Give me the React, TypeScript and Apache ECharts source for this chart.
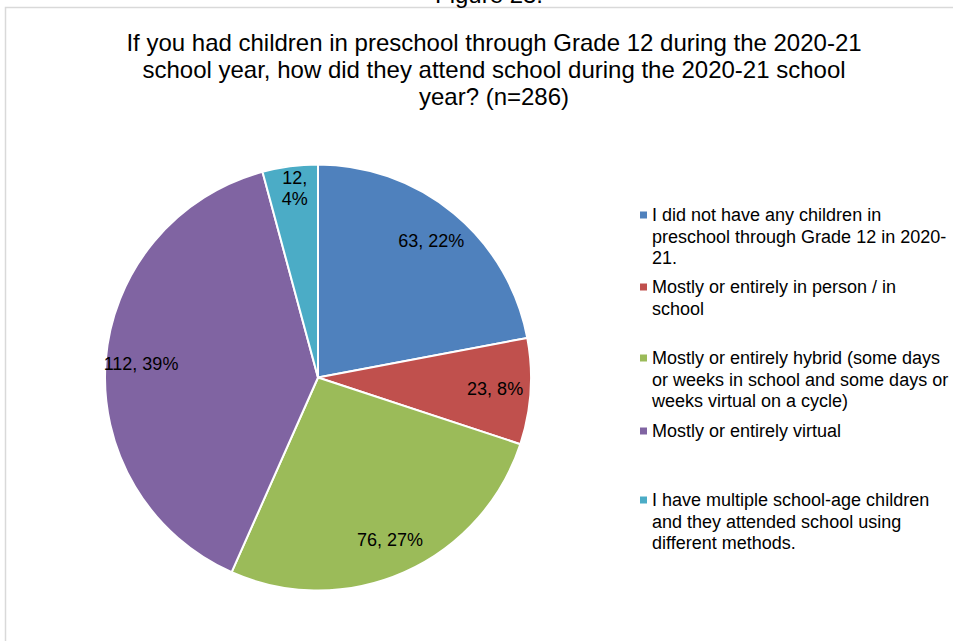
import React, { useEffect, useRef } from "react";
import * as echarts from "echarts";

const figureLabel = "Figure 23.";
const titleText =
  "If you had children in preschool through Grade 12 during the 2020-21\nschool year, how did they attend school during the 2020-21 school\nyear? (n=286)";

const categories = [
  "I did not have any children in\npreschool through Grade 12 in 2020-\n21.",
  "Mostly or entirely in person / in\nschool",
  "Mostly or entirely hybrid (some days\nor weeks in school and some days or\nweeks virtual on a cycle)",
  "Mostly or entirely virtual",
  "I have multiple school-age children\nand they attended school using\ndifferent methods.",
];
const counts = [63, 23, 76, 112, 12];
const colors = ["#4F81BD", "#C0504D", "#9BBB59", "#8064A2", "#4BACC6"];

// layout: first-line centre y of each legend entry
const legendFirstLineY = [215, 287, 358, 431, 500];

const FONT = 'Arial, "Liberation Sans", sans-serif';

export default function App() {
  const ref = useRef<HTMLDivElement>(null);
  useEffect(() => {
    if (!ref.current) return;
    const chart = echarts.init(ref.current, null, { renderer: "svg" });
    const data = categories.map((name, i) => ({
      name,
      value: counts[i],
      itemStyle: { color: colors[i] },
    }));
    const lh = 21.5;
    const legendGraphics: any[] = [];
    categories.forEach((name, i) => {
      const y = legendFirstLineY[i];
      legendGraphics.push({
        type: "rect",
        shape: { x: 640, y: y - 3.5, width: 7, height: 7 },
        style: { fill: colors[i] },
      });
      legendGraphics.push({
        type: "text",
        x: 652,
        y: y - lh / 2,
        style: {
          text: name,
          fill: "#000",
          font: `18px ${FONT}`,
          lineHeight: lh,
          verticalAlign: "top",
          align: "left",
        },
      });
    });
    chart.setOption({
      animation: false,
      backgroundColor: "#fff",
      title: {
        text: titleText,
        left: 489,
        top: 24,
        textAlign: "center",
        textStyle: {
          fontFamily: FONT,
          fontSize: 24,
          fontWeight: "normal",
          color: "#000",
          lineHeight: 27,
        },
      },
      graphic: [
        {
          type: "rect",
          shape: { x: 5.5, y: 7.5, width: 1000, height: 700 },
          style: { fill: "none", stroke: "#d9d9d9", lineWidth: 1.5 },
          z: 0,
        },
        {
          type: "text",
          x: 489,
          y: 6,
          style: {
            text: figureLabel,
            fill: "#000",
            font: `24px ${FONT}`,
            align: "center",
            verticalAlign: "bottom",
          },
        },
        ...legendGraphics,
      ],
      series: [
        {
          type: "pie",
          center: [318, 377.5],
          radius: [0, 213],
          startAngle: 90,
          clockwise: true,
          label: { show: false },
          labelLine: { show: false },
          itemStyle: { borderColor: "#fff", borderWidth: 2 },
          emphasis: { disabled: true },
          data,
        },
        {
          type: "pie",
          center: [318, 377.5],
          radius: [136, 213],
          startAngle: 90,
          clockwise: true,
          silent: true,
          itemStyle: { color: "rgba(0,0,0,0)", borderWidth: 0 },
          emphasis: { disabled: true },
          labelLine: { show: false },
          label: {
            show: true,
            position: "inside",
            color: "#000",
            fontFamily: FONT,
            fontSize: 18,
            lineHeight: 21,
            rich: { gap: { fontSize: 4, lineHeight: 26 } },
            formatter: (p: any) =>
              p.percent < 5
                ? `${p.value},\n${Math.round(p.percent)}%\n{gap| }`
                : `${p.value}, ${Math.round(p.percent)}%`,
          },
          data: categories.map((name, i) => ({ name, value: counts[i] })),
        },
      ],
    });
    return () => chart.dispose();
  }, []);
  return (
    <div
      ref={ref}
      style={{ position: "fixed", left: 0, top: 0, width: 953, height: 641 }}
    />
  );
}
